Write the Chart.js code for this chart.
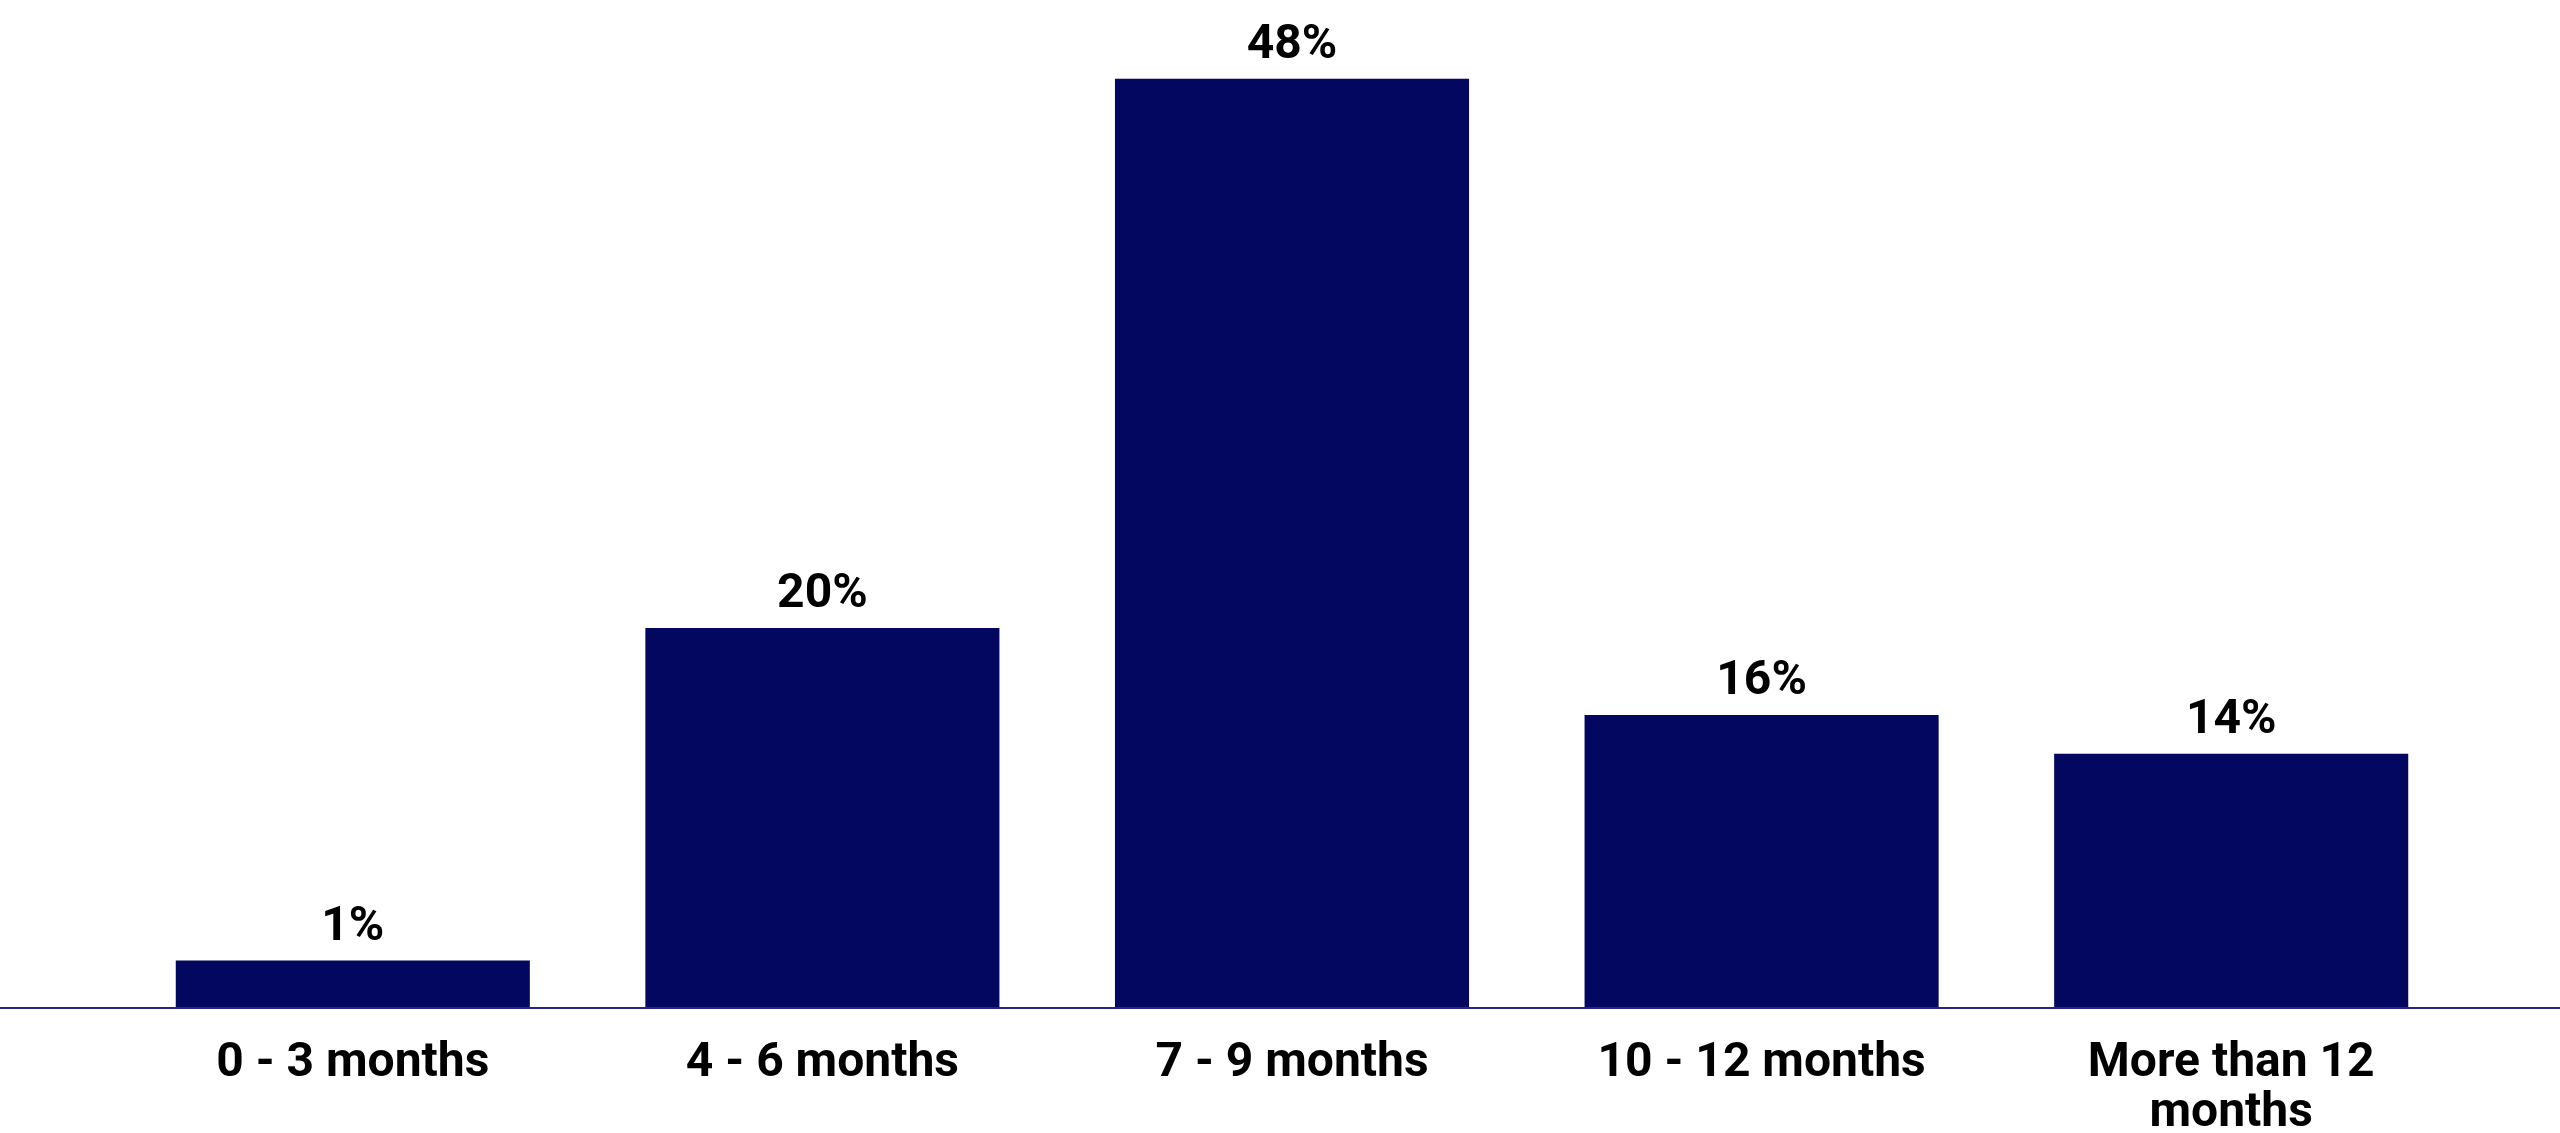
<!DOCTYPE html>
<html>
<head>
<meta charset="utf-8">
<script src="https://cdn.jsdelivr.net/npm/chart.js@4/dist/chart.umd.min.js"></script>
<style>
  html, body { margin: 0; padding: 0; background: #fff; }
  #wrap { width: 2560px; height: 1133px; position: relative; }
</style>
</head>
<body>
<div id="wrap"><canvas id="chart"></canvas></div>
<script>
// Data
const categories = ['0 - 3 months', '4 - 6 months', '7 - 9 months', '10 - 12 months', ['More than 12', 'months']];
const values = [2.4, 19.6, 48, 15.1, 13.1];
const valueLabels = ['1%', '20%', '48%', '16%', '14%'];

const barColor = '#03075f';
const fontFamily = 'Roboto, "Liberation Sans", Arial, sans-serif';

// baseline across the whole width
const baselinePlugin = {
  id: 'baseline',
  afterDatasetsDraw(chart) {
    const ctx = chart.ctx;
    const y = Math.round(chart.scales.y.getPixelForValue(0)) + 1;
    ctx.save();
    ctx.strokeStyle = '#24248a';
    ctx.lineWidth = 2;
    ctx.beginPath();
    ctx.moveTo(0, y);
    ctx.lineTo(chart.width, y);
    ctx.stroke();
    ctx.restore();
  }
};

// value labels above bars
const valueLabelPlugin = {
  id: 'valueLabels',
  afterDatasetsDraw(chart) {
    const ctx = chart.ctx;
    const meta = chart.getDatasetMeta(0);
    ctx.save();
    ctx.fillStyle = '#000';
    ctx.font = 'bold 48px ' + fontFamily;
    ctx.textAlign = 'center';
    ctx.textBaseline = 'middle';
    meta.data.forEach((bar, i) => {
      ctx.fillText(valueLabels[i], bar.x, bar.y - 33);
    });
    ctx.restore();
  }
};

new Chart(document.getElementById('chart'), {
  type: 'bar',
  data: {
    labels: categories,
    datasets: [{
      data: values,
      backgroundColor: barColor,
      borderWidth: 0,
      barPercentage: 0.754,
      categoryPercentage: 1
    }]
  },
  options: {
    responsive: true,
    maintainAspectRatio: false,
    devicePixelRatio: 1,
    animation: false,
    layout: { padding: { left: 118, right: 94, top: 40, bottom: 0 } },
    plugins: {
      legend: { display: false },
      tooltip: { enabled: false }
    },
    scales: {
      x: {
        grid: { display: false, drawTicks: false },
        border: { display: false },
        afterFit(scale) { scale.height = 126; },
        ticks: {
          color: '#000',
          padding: 32,
          maxRotation: 0,
          autoSkip: false,
          font: { family: fontFamily, size: 48, weight: 'bold', lineHeight: 1.04 }
        }
      },
      y: {
        display: false,
        min: 0,
        max: 50
      }
    }
  },
  plugins: [baselinePlugin, valueLabelPlugin]
});
</script>
</body>
</html>
